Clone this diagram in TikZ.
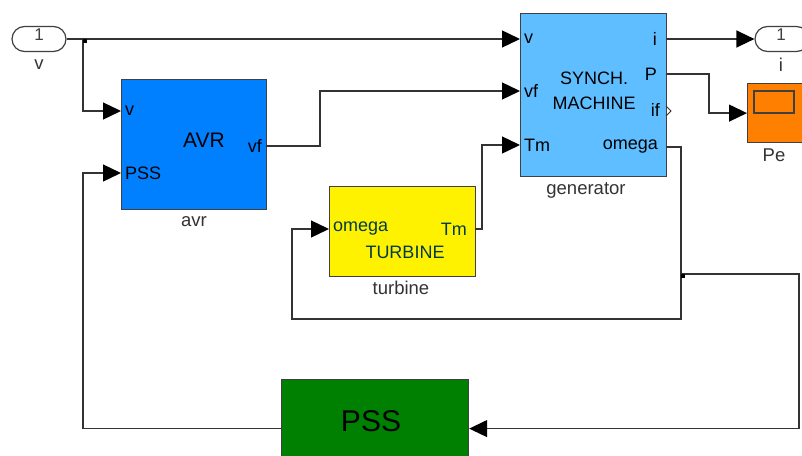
\documentclass[tikz,border=0pt]{standalone}
\usepackage{fontspec}
\setmainfont{Liberation Sans}
\usetikzlibrary{arrows.meta,positioning}
\definecolor{avrblue}{RGB}{0,128,255}
\definecolor{genblue}{RGB}{94,190,255}
\definecolor{scopeorange}{RGB}{255,128,0}
\definecolor{pssgreen}{RGB}{0,128,0}
\definecolor{turbtext}{RGB}{0,60,70}

\begin{document}
\begin{tikzpicture}[x=1pt,y=-1pt,>={Triangle[length=18pt,width=17pt,color=black]},
  blk/.style={draw=black!75,line width=1.2pt,anchor=north west,inner sep=0pt},
  portin/.style={anchor=west,inner xsep=4pt,inner ysep=0pt,font=\fontsize{18}{18}\selectfont},
  portout/.style={anchor=east,inner xsep=4pt,inner ysep=0pt,font=\fontsize{18}{18}\selectfont},
  lbl/.style={text=black!80,font=\fontsize{18.5}{20}\selectfont},
  io/.style={draw=black!75,line width=1.2pt,rounded corners=12.5pt,minimum width=54pt,minimum height=25pt,inner sep=0pt},
  wire/.style={draw=black!80,line width=1.3pt}]
  \useasboundingbox (0,0) rectangle (802,455);
  \clip (0,0) rectangle (802,455);

  \node[io] (vin) at (39,39) {};
  \node[text=black!75,font=\fontsize{17}{17}\selectfont] at (39,35) {1};
  \node[lbl] at (39,65) {v};
  \node[io] (iout) at (782,39) {};
  \node[text=black!75,font=\fontsize{17}{17}\selectfont] at (781,35) {1};
  \node[lbl] at (781,65) {i};

  \node[blk,fill=avrblue,minimum width=145pt,minimum height=130pt] (avr) at (121,79) {};
  \node[portin] (avr-v) at (121,111) {v};
  \node[portin] (avr-pss) at (121,173) {PSS};
  \node[portout] (avr-vf) at (266,146) {vf};
  \node[font=\fontsize{21}{22}\selectfont] at (204,140) {AVR};
  \node[lbl] at (194,222) {avr};

  \node[blk,fill=genblue,minimum width=146pt,minimum height=163pt] (gen) at (520,13) {};
  \node[portin] (gen-v) at (520,39) {v};
  \node[portin] (gen-vf) at (520,91) {vf};
  \node[portin] (gen-tm) at (520,145) {Tm};
  \node[portout,inner xsep=9pt] (gen-i) at (666,39) {i};
  \node[portout,inner xsep=9pt] (gen-p) at (666,74) {P};
  \node[portout,inner xsep=6pt] (gen-if) at (666,110) {if};
  \node[portout,inner xsep=8pt] (gen-omega) at (666,147) {omega};
  \node[align=center,font=\fontsize{18}{25}\selectfont] at (594,91) {SYNCH.\\MACHINE};
  \draw[draw=black!80,line width=1pt] (666,106) -- (671,111) -- (666,116);
  \node[lbl] at (586,190) {generator};

  \node[blk,fill=yellow,minimum width=146pt,minimum height=90pt] (turb) at (329,186) {};
  \node[portin,text=turbtext] (turb-omega) at (329,229) {omega};
  \node[portout,text=turbtext,inner xsep=8pt] (turb-tm) at (475,229) {Tm};
  \node[text=turbtext,font=\fontsize{18}{18}\selectfont] at (405,252) {TURBINE};
  \node[lbl] at (401,288) {turbine};

  \node[blk,fill=scopeorange,minimum width=56pt,minimum height=59pt] (scope) at (747,83) {};
  \draw[draw=black!75,line width=1.2pt] (754,91) rectangle (794,113);
  \node[lbl] at (774,155) {Pe};

  \node[blk,fill=pssgreen,minimum width=187pt,minimum height=98pt] (pss) at (281,379) {};
  \node[font=\fontsize{30}{30}\selectfont] at (371,421) {PSS};

  \coordinate (vsplit) at (83,39);
  \coordinate (wsplit) at (681,274);
  \draw[wire,->] (vin.east) -- (gen-v.west);
  \draw[wire,->] (vsplit) |- (avr-v.west);
  \fill[black] (vsplit) rectangle ++(4,4);
  \draw[wire,->] (avr-vf.east) -- ++(54,0) |- (gen-vf.west);
  \draw[wire,->] (turb-tm.east) -- ++(7,0) |- (gen-tm.west);
  \draw[wire,->] (gen-i.east) -- (iout.west);
  \draw[wire,->] (gen-p.east) -- ++(43,0) |- (scope.west);
  \draw[wire,->] (gen-omega.east) -- ++(15,0) |- (292,319) |- (turb-omega.west);
  \draw[wire,->] (wsplit) -- (799,274) |- (pss.east);
  \fill[black] (wsplit) rectangle ++(4,4);
  \draw[wire,->] (pss.west) -| ([xshift=-38pt]avr-pss.west) -- (avr-pss.west);
\end{tikzpicture}
\end{document}
